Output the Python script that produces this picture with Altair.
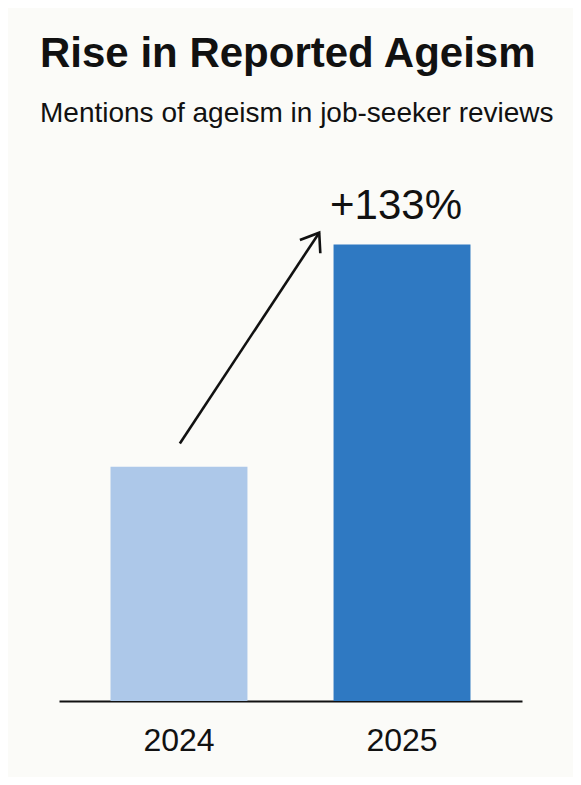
import altair as alt
import pandas as pd

years = ["2024", "2025"]
values = [1.00, 1.95]
labels = ["", "+133%"]
bar_colors = ["#adc8e9", "#2f79c2"]

arrow_x = [0.261, 0.562]
arrow_y = [1.10, 2.00]

bars_df = pd.DataFrame({"year": years, "value": values, "label": labels})
arrow_df = pd.DataFrame({"ax": arrow_x, "ay": arrow_y, "part": ["start", "tip"]})

FONT = "Liberation Sans"

xband = alt.X("year:N", sort=years,
              scale=alt.Scale(paddingInner=0.386, paddingOuter=0.231),
              axis=alt.Axis(title=None, labelAngle=0, ticks=False, domain=True,
                            domainColor="#111111", domainWidth=2,
                            labelFont=FONT, labelFontSize=32, labelColor="#111111",
                            labelPadding=24, grid=False))
yq = alt.Y("value:Q", scale=alt.Scale(domain=[0, 2.4], nice=False, zero=True), axis=None)

bars = alt.Chart(bars_df).mark_bar().encode(
    x=xband,
    y=yq,
    color=alt.Color("year:N", scale=alt.Scale(domain=years, range=bar_colors), legend=None),
)

text = alt.Chart(bars_df).mark_text(
    font=FONT, fontSize=42, color="#111111", baseline="alphabetic", dy=-25, dx=-6
).encode(x=alt.X("year:N", sort=years), y=yq, text="label:N")

base = alt.layer(bars, text)

ax_scale = alt.Scale(domain=[0, 1], nice=False, zero=False)
ay = alt.Y("ay:Q", scale=alt.Scale(domain=[0, 2.4], nice=False), axis=None)

arrow_line = alt.Chart(arrow_df).mark_line(color="#111111", strokeWidth=2.6).encode(
    x=alt.X("ax:Q", scale=ax_scale, axis=None),
    y=ay,
)

arrow_head = alt.Chart(arrow_df).transform_filter(alt.datum.part == "tip").mark_point(
    shape="M-0.59,0.81L0,0L0.59,0.81", size=1700, filled=False,
    stroke="#111111", strokeWidth=2.6, angle=33, opacity=1
).encode(
    x=alt.X("ax:Q", scale=ax_scale, axis=None),
    y=ay,
)

chart = alt.layer(base, arrow_line, arrow_head).resolve_scale(x="independent").properties(
    width=463,
    height=562,
    padding={"left": 51, "top": 131, "right": 51, "bottom": 76},
    autosize=alt.AutoSizeParams(type="none"),
    background="#fbfbf8",
    title=alt.Title(
        "Rise in Reported Ageism",
        subtitle="Mentions of ageism in job-seeker reviews",
        anchor="start", frame="group", dx=-19, offset=10,
        font=FONT, fontSize=42, fontWeight="bold", color="#111111",
        subtitleFont=FONT, subtitleFontSize=28, subtitleColor="#111111",
        subtitlePadding=24,
    ),
).configure_view(stroke=None)

chart.save("out.html", embed_options={"renderer": "svg", "actions": False})
